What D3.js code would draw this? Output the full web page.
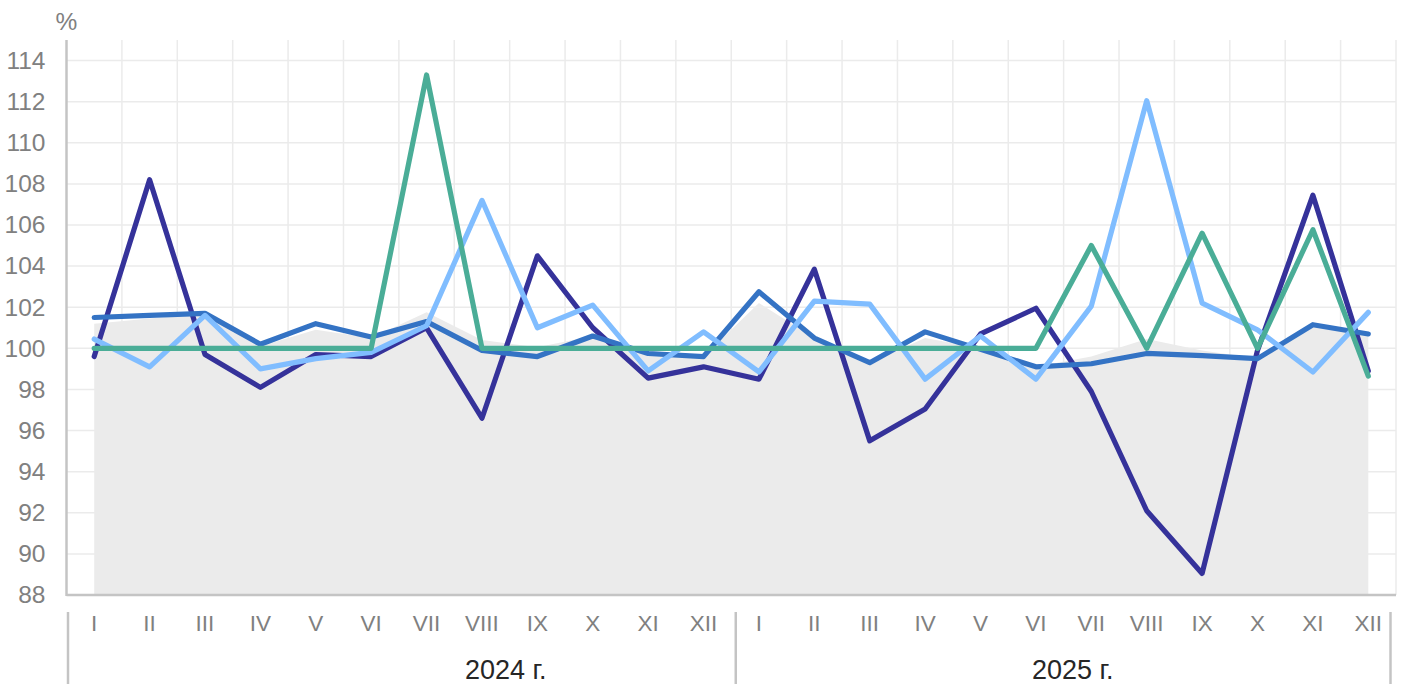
<!DOCTYPE html>
<html><head><meta charset="utf-8">
<script src="https://cdn.jsdelivr.net/npm/d3@7"></script>
<style>
body{margin:0;background:#fff;}
text{font-family:"Liberation Sans",Arial,Helvetica,sans-serif;}
</style>
</head><body>
<svg id="chart" width="1405" height="684"></svg>
<script>
// ---------- data ----------
const months = ["I","II","III","IV","V","VI","VII","VIII","IX","X","XI","XII"];
const years = ["2024 г.","2025 г."];
const yTicks = [88,90,92,94,96,98,100,102,104,106,108,110,112,114];

// background (grey area) series
const areaValues = [101.2,101.45,101.7,100.1,100.9,100.5,101.75,100.4,100.05,100.6,99.9,99.6,
                    102.2,100.5,99.3,100.5,100.0,99.1,99.6,100.45,99.9,99.5,101.2,100.7];
const navyValues = [99.6,108.2,99.7,98.1,99.7,99.6,101.0,96.6,104.5,101.0,98.55,99.1,
                    98.5,103.85,95.5,97.05,100.7,101.95,97.9,92.1,89.05,99.9,107.45,98.9];
const blueValues = [101.5,101.6,101.7,100.2,101.2,100.55,101.3,99.9,99.6,100.6,99.75,99.6,
                    102.75,100.5,99.3,100.8,99.95,99.1,99.25,99.75,99.65,99.5,101.15,100.7];
const lightValues = [100.45,99.1,101.6,99.0,99.5,99.8,101.1,107.2,101.0,102.1,98.9,100.8,
                     98.85,102.3,102.15,98.5,100.6,98.5,102.05,112.05,102.2,100.9,98.85,101.75];
const tealValues = [100,100,100,100,100,100,113.3,100,100,100,100,100,
                    100,100,100,100,100,100,105.0,100,105.6,100,105.77,98.65];

const seriesList = [
  {name:"navy", values:navyValues, color:"#35329a"},
  {name:"blue", values:blueValues, color:"#3473c4"},
  {name:"light", values:lightValues, color:"#80bdff"},
  {name:"teal", values:tealValues, color:"#4aad97"}
];

// ---------- layout ----------
const L = 66.5, R = 1396, T = 40, B = 595;
const keys = years.flatMap((yr, yi) => months.map(m => yi + "-" + m));
const x = d3.scaleBand().domain(keys).range([L, R]).padding(0);
const cx = i => x(keys[i]) + x.bandwidth() / 2;
const y = d3.scaleLinear().domain([88, 115]).range([B, T]);

const svg = d3.select("#chart");

// grid
const grid = svg.append("g");
grid.selectAll("line.h").data(yTicks.filter(v => v > 88)).join("line")
  .attr("x1", L).attr("x2", R).attr("y1", d => y(d)).attr("y2", d => y(d))
  .attr("stroke", "#ebebeb").attr("stroke-width", 1.5);
grid.selectAll("line.v").data(keys).join("line")
  .attr("x1", d => x(d) + x.bandwidth()).attr("x2", d => x(d) + x.bandwidth())
  .attr("y1", T).attr("y2", B)
  .attr("stroke", "#ebebeb").attr("stroke-width", 1.5);

// grey area
const area = d3.area().x((d, i) => cx(i)).y0(y(88)).y1(d => y(d));
svg.append("path").datum(areaValues).attr("d", area).attr("fill", "#ebebeb");

// axis lines
svg.append("line").attr("x1", L).attr("x2", L).attr("y1", T).attr("y2", B + 1)
  .attr("stroke", "#c4c4c4").attr("stroke-width", 2.5);
svg.append("line").attr("x1", L).attr("x2", R).attr("y1", B).attr("y2", B)
  .attr("stroke", "#c4c4c4").attr("stroke-width", 2.5);

// y axis labels
const yAxis = svg.append("g").attr("transform", `translate(${L},0)`)
  .call(d3.axisLeft(y).tickValues(yTicks).tickSize(0).tickPadding(21).tickFormat(d3.format("d")));
yAxis.select(".domain").remove();
yAxis.selectAll("text").attr("fill", "#808080").attr("font-size", 24.5)
  .attr("font-family", "Liberation Sans, Arial, sans-serif");

svg.append("text").attr("x", 66.5).attr("y", 21).attr("text-anchor", "middle")
  .attr("dominant-baseline", "central").attr("fill", "#808080").attr("font-size", 24.5).text("%");

// x axis month labels
const xAxis = svg.append("g").attr("transform", `translate(0,${B})`)
  .call(d3.axisBottom(x).tickSize(0).tickFormat(k => k.split("-")[1]));
xAxis.select(".domain").remove();
xAxis.selectAll("text").attr("fill", "#808080").attr("font-size", 22.5)
  .attr("font-family", "Liberation Sans, Arial, sans-serif")
  .attr("y", 28).attr("dy", "0.35em");

// group separators
const sepX = [L + 1.5, x(keys[12]) + 4.5, R - 5.5];
svg.selectAll("line.sep").data(sepX).join("line")
  .attr("x1", d => d).attr("x2", d => d).attr("y1", 612).attr("y2", 684)
  .attr("stroke", "#c4c4c4").attr("stroke-width", 2.5);

// year labels
const yearX = [465, 1032];
svg.selectAll("text.year").data(years).join("text")
  .attr("x", (d, i) => yearX[i]).attr("y", 670).attr("dominant-baseline", "central")
  .attr("fill", "#262626").attr("font-size", 27).text(d => d);

// series lines
const line = d3.line().x((d, i) => cx(i)).y(d => y(d));
svg.selectAll("path.series").data(seriesList).join("path")
  .attr("d", d => line(d.values)).attr("fill", "none")
  .attr("stroke", d => d.color).attr("stroke-width", 5.2)
  .attr("stroke-linejoin", "round").attr("stroke-linecap", "round");
</script>
</body></html>
